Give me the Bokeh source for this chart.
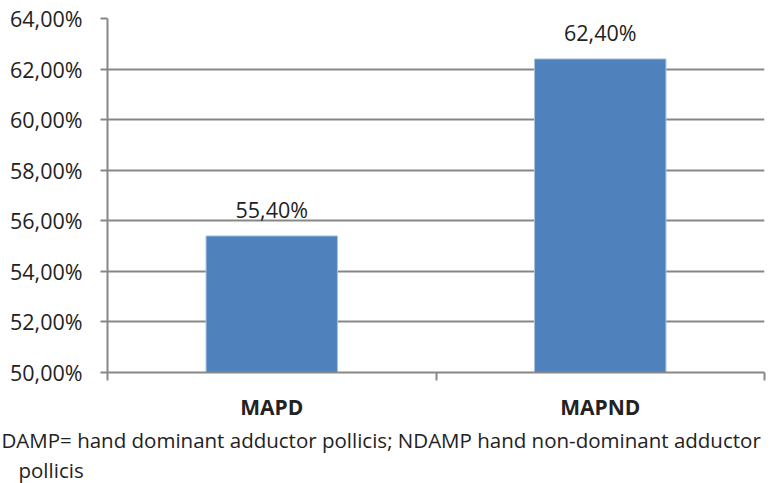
from bokeh.plotting import figure
from bokeh.models import Range1d, FixedTicker, ColumnDataSource, Title
from bokeh.embed import file_html
from bokeh.resources import INLINE
from bokeh.core.properties import value

categories = ["MAPD", "MAPND"]
values = [55.40, 62.40]
y_ticks = [50, 52, 54, 56, 58, 60, 62, 64]
caption_lines = ["DAMP= hand dominant adductor pollicis; NDAMP hand non-dominant adductor",
                 "pollicis"]

FONT = "Open Sans"
GRID = "#878787"
TXT = "#222222"

FRAME_LEFT, FRAME_TOP, FRAME_RIGHT, FRAME_BOTTOM = 107, 18, 764, 373
W, H = 771, 483

def pct(v):
    return ("%.2f%%" % v).replace(".", ",")

xs = [i + 0.5 for i in range(len(categories))]
src = ColumnDataSource(dict(x=xs, top=values, label=[pct(v) for v in values]))

p = figure(width=W, height=H, output_backend="svg", toolbar_location=None,
           x_range=Range1d(0, len(categories)), y_range=Range1d(50, 64),
           min_border_left=FRAME_LEFT, min_border_right=W - FRAME_RIGHT,
           min_border_top=FRAME_TOP, min_border_bottom=H - FRAME_BOTTOM)
p.outline_line_color = None
p.background_fill_color = "white"
p.border_fill_color = "white"

p.vbar(x="x", top="top", bottom=50, width=0.4, source=src,
       fill_color="#4F81BD", line_color="#A7C0DE", line_width=1)

p.text(x="x", y="top", text="label", source=src, text_align="center",
       text_baseline="alphabetic", y_offset=-26, text_font=value(FONT),
       text_font_size="21.5px", text_color=TXT)

# y axis
p.yaxis.ticker = FixedTicker(ticks=y_ticks)
p.yaxis.major_label_overrides = {t: pct(t) for t in y_ticks}
p.yaxis.major_label_text_font = FONT
p.yaxis.major_label_text_font_size = "21.5px"
p.yaxis.major_label_text_color = TXT
p.yaxis.major_label_standoff = 18
p.yaxis.axis_line_color = GRID
p.yaxis.axis_line_width = 2
p.yaxis.major_tick_line_color = GRID
p.yaxis.major_tick_line_width = 2
p.yaxis.major_tick_out = 7
p.yaxis.major_tick_in = 0
p.yaxis.minor_tick_line_color = None

# x axis
p.xaxis.ticker = FixedTicker(ticks=xs, minor_ticks=list(range(len(categories) + 1)))
p.xaxis.major_label_overrides = {x: c for x, c in zip(xs, categories)}
p.xaxis.major_label_text_font = FONT
p.xaxis.major_label_text_font_size = "21px"
p.xaxis.major_label_text_font_style = "bold"
p.xaxis.major_label_text_color = TXT
p.xaxis.major_label_standoff = 12
p.xaxis.axis_line_color = GRID
p.xaxis.axis_line_width = 2
p.xaxis.major_tick_line_color = None
p.xaxis.minor_tick_line_color = GRID
p.xaxis.minor_tick_line_width = 2
p.xaxis.minor_tick_out = 8
p.xaxis.minor_tick_in = 0

p.xgrid.grid_line_color = None
p.ygrid.ticker = FixedTicker(ticks=y_ticks)
p.ygrid.grid_line_color = GRID
p.ygrid.grid_line_width = 2

caption_x = [1, 18]
for line, cx in zip(caption_lines, caption_x):
    p.add_layout(Title(text=line, align="left", offset=cx - FRAME_LEFT,
                       text_font=FONT, text_font_size="20.5px", text_font_style="normal",
                       text_color=TXT, standoff=0), "below")

open("out.html", "w").write(file_html(p, INLINE))
